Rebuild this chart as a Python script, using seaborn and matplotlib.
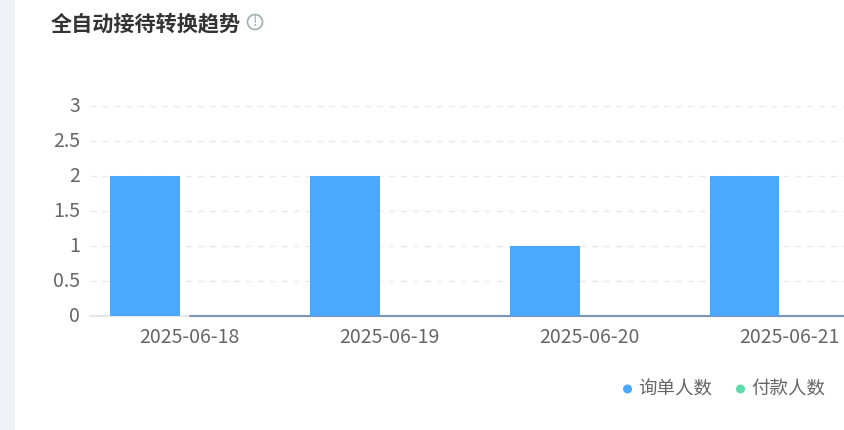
import matplotlib
matplotlib.use('Agg')
import matplotlib.pyplot as plt
from matplotlib.transforms import ScaledTranslation
import pandas as pd
import seaborn as sns

dates = ['2025-06-18', '2025-06-19', '2025-06-20', '2025-06-21']
inquiries = [2, 2, 1, 2]
payments = [0, 0, 0, 0]
y_ticks = [0, 0.5, 1, 1.5, 2, 2.5, 3]
y_labels = ['0', '0.5', '1', '1.5', '2', '2.5', '3']
series_names = ['询单人数', '付款人数']
palette = ['#4aa8ff', '#5ddba8']

sns.set_theme(style='white')
plt.rcParams['font.family'] = ['Noto Sans CJK SC', 'DejaVu Sans']

df = pd.DataFrame({
    'date': dates * 2,
    'value': inquiries + payments,
    'series': [series_names[0]] * 4 + [series_names[1]] * 4,
})

W, H = 844, 430
fig = plt.figure(figsize=(W / 100, H / 100), dpi=100, facecolor='white')

# the plot runs past the right edge of the page, as in the screenshot
ax = fig.add_axes([90 / W, (H - 316) / H, 800 / W, 210 / H])
sns.barplot(data=df, x='date', y='value', hue='series', palette=palette, order=dates,
            hue_order=series_names, width=0.8, gap=0.125, saturation=1, legend=False,
            linewidth=0, zorder=3, ax=ax)

# bars sit 5px left of their date labels
ax.set_xlim(-0.4725, 3.5275)
ax.set_ylim(0, 3)
ax.set_xlabel('')
ax.set_ylabel('')
ax.set_xticks([i + 0.0225 for i in range(len(dates))])
ax.set_xticklabels(dates)
ax.set_yticks(y_ticks)
ax.set_yticklabels(y_labels)
ax.tick_params(axis='y', length=0, pad=7, labelsize=14, labelcolor='#666666')
ax.tick_params(axis='x', length=0, pad=8, labelsize=14, labelcolor='#666666')
ax.grid(axis='y', color='#e9e9e9', linestyle=(0, (4.3, 4.3)), linewidth=1, zorder=0)
sns.despine(ax=ax, left=True, top=True, right=True, bottom=True)

# y labels sit slightly above their gridlines
for label in ax.get_yticklabels():
    label.set_transform(label.get_transform() + ScaledTranslation(0, 2 / 100, fig.dpi_scale_trans))

# baseline: pale under the first bar, blue-grey from the first empty bar on
ax.axhline(0, color='#e6e6e6', linewidth=1.5, zorder=1, clip_on=False)
ax.axhline(0, xmin=100 / 800, color='#7f93b5', linewidth=1.5, zorder=2, clip_on=False)

# page strip on the left
fig.patches.append(plt.Rectangle((0, 0), 15 / W, 1, transform=fig.transFigure,
                                 facecolor='#eff1f6', edgecolor='none'))

fig.text(51 / W, (H - 24) / H, '全自动接待转换趋势', fontsize=15.2, fontweight='bold',
         color='#333333', va='center', ha='left')
fig.text(255 / W, (H - 22) / H, '!', fontsize=10, color='#9fb0b0', va='center', ha='center')
fig.patches.append(plt.Circle((255, H - 22), 7.5, transform=None, fill=False,
                              edgecolor='#9fb0b0', linewidth=1.2))

# legend
for name, colour, dot_x, text_x in zip(series_names, palette, [627.5, 740.5], [638.5, 751]):
    fig.patches.append(plt.Circle((dot_x, H - 389), 4.5, transform=None,
                                  facecolor=colour, edgecolor='none'))
    fig.text(text_x / W, (H - 390) / H, name, fontsize=13.3, color='#666666', va='center', ha='left')

fig.savefig('out.png', dpi=100)
